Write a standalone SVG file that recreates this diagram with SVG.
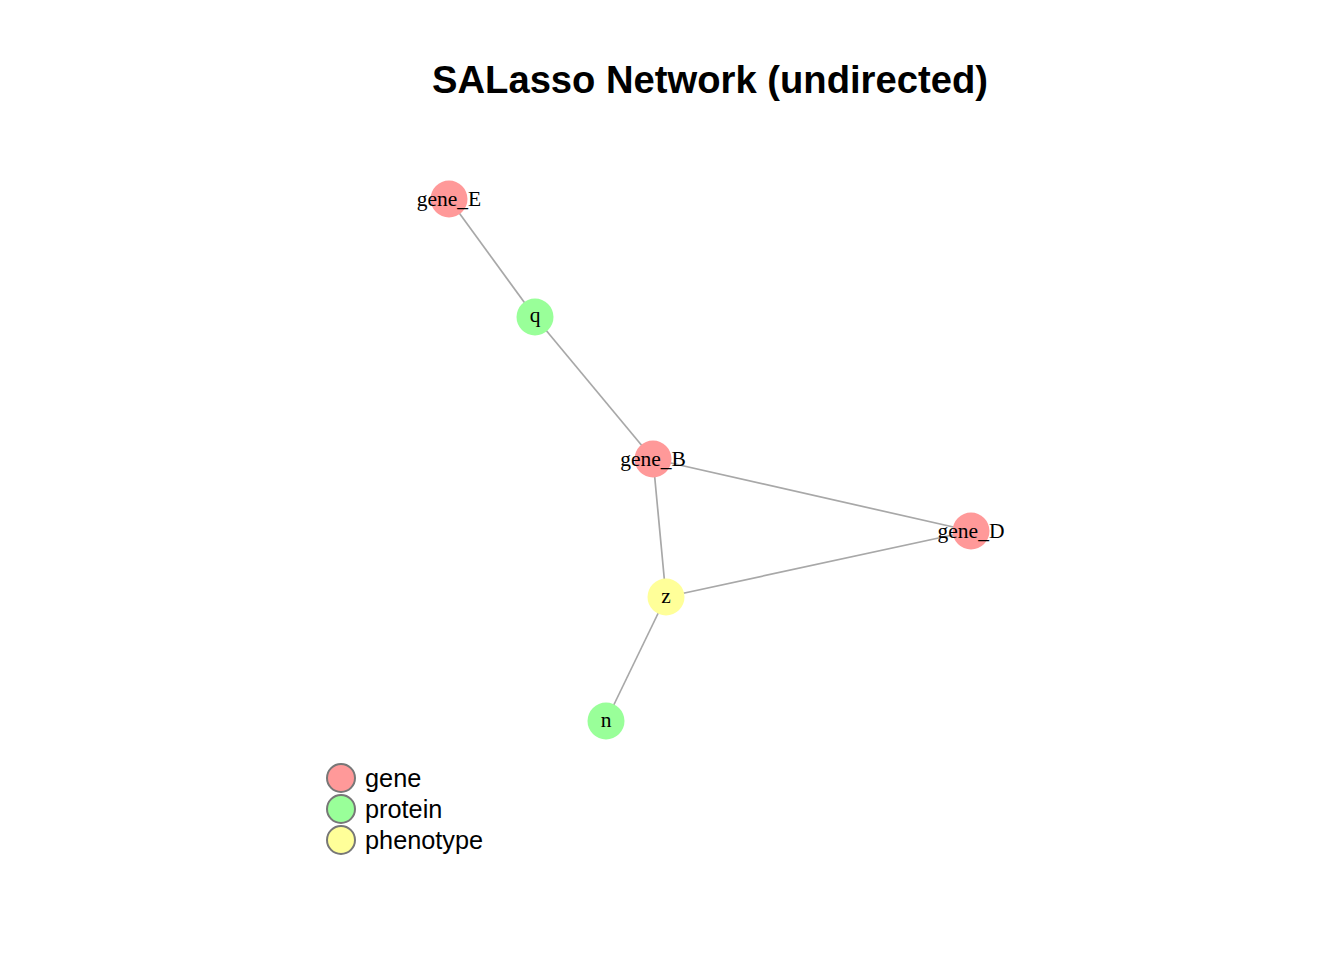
<svg xmlns="http://www.w3.org/2000/svg" width="1344" height="960" viewBox="0 0 1344 960">
<style>
.edge{stroke:#A8A8A8;stroke-width:1.7;fill:none}
.gene{fill:#FF9999}
.protein{fill:#99FF99}
.phen{fill:#FFFF99}
.lbl{font-family:"Liberation Serif",serif;font-size:21.5px;fill:#000;text-anchor:middle}
.leg{font-family:"Liberation Sans",sans-serif;font-size:25.3px;fill:#000}
.legc{stroke:#777;stroke-width:2}
</style>
<rect width="1344" height="960" fill="#fff"/>
<text x="710" y="93" font-family="Liberation Sans, sans-serif" font-weight="bold" font-size="38.2" text-anchor="middle">SALasso Network (undirected)</text>
<g id="connectors">
<line class="edge" x1="449" y1="199" x2="535" y2="317"/>
<line class="edge" x1="535" y1="317" x2="653" y2="459"/>
<line class="edge" x1="653" y1="459" x2="971" y2="531"/>
<line class="edge" x1="653" y1="459" x2="666" y2="597"/>
<line class="edge" x1="666" y1="597" x2="971" y2="531"/>
<line class="edge" x1="666" y1="597" x2="606" y2="721"/>
</g>
<g id="node-gene_E"><circle class="gene" cx="449" cy="199" r="18.5"/><text class="lbl" x="449" y="206">gene_E</text></g>
<g id="node-q"><circle class="protein" cx="535" cy="317" r="18.5"/><text class="lbl" x="535" y="322">q</text></g>
<g id="node-gene_B"><circle class="gene" cx="653" cy="459" r="18.5"/><text class="lbl" x="653" y="466">gene_B</text></g>
<g id="node-gene_D"><circle class="gene" cx="971" cy="531" r="18.5"/><text class="lbl" x="971" y="538">gene_D</text></g>
<g id="node-z"><circle class="phen" cx="666" cy="597" r="18.5"/><text class="lbl" x="666" y="603">z</text></g>
<g id="node-n"><circle class="protein" cx="606" cy="721" r="18.5"/><text class="lbl" x="606" y="727">n</text></g>
<g id="legend">
<circle class="gene legc" cx="341" cy="778" r="14"/><text class="leg" x="365" y="787">gene</text>
<circle class="protein legc" cx="341" cy="809" r="14"/><text class="leg" x="365" y="818">protein</text>
<circle class="phen legc" cx="341" cy="840" r="14"/><text class="leg" x="365" y="849">phenotype</text>
</g>
</svg>
